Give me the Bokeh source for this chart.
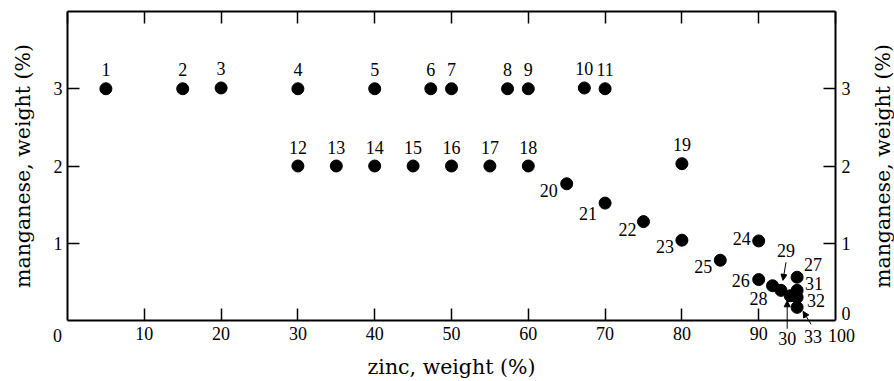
import math
from bokeh.plotting import figure
from bokeh.models import (LinearAxis, FixedTicker, Label, Arrow, NormalHead, Range1d,
                          CustomJSTickFormatter)
from bokeh.embed import file_html
from bokeh.resources import INLINE

# ---- data ----
zinc = [5, 15, 20, 30, 40, 47.3, 50, 57.3, 60, 67.3, 70,
        30, 35, 40, 45, 50, 55, 60, 80,
        65, 70, 75, 80, 90, 85, 90, 95,
        91.8, 92.9, 94.1, 95, 95, 95]
manganese = [3, 3, 3.01, 3, 3, 3, 3, 3, 3, 3.01, 3,
             2, 2, 2, 2, 2, 2, 2, 2.03,
             1.77, 1.52, 1.28, 1.04, 1.03, 0.78, 0.53, 0.56,
             0.45, 0.39, 0.32, 0.39, 0.30, 0.17]
point_labels = [str(i) for i in range(1, 34)]
x_ticks = [0, 10, 20, 30, 40, 50, 60, 70, 80, 90, 100]
y_ticks_left = [1, 2, 3]
y_ticks_right = [0, 1, 2, 3]
x_title = "zinc, weight (%)"
y_title = "manganese, weight (%)"
X0, X1, Y0, Y1 = 0, 100, 0, 4          # the boxed data area

# ---- layout of the number labels (screen px, y up) ----
lab_dx = [0] * 19 + [-9, -8, -7, -8, -8, -8, -9, 7, -14, 5, -3, 8, 10, 16]
lab_dy = [19] * 19 + [-7, -10, -8, -6, 2, -6, -1, 13, -13, 40, -43, 7, -3, -29]
lab_align = ["center"] * 19 + ["right"] * 7 + ["left", "center", "center", "center",
                                                "left", "left", "center"]
# arrows: (point index, start dx, start dy, end dx, end dy) in px
arrow_specs = [(28, 5, 28, 2, 10), (29, -3, -33, -3, -5), (32, 14, -17, 6, -4)]

# ---- pixel layout: box from x=67..835, y=11..320 on a 894x381 canvas ----
W, H = 894, 381
BOX_L, BOX_R, BOX_T, BOX_B = 67, 835, 11, 320
ux = (BOX_R - BOX_L) / (X1 - X0)       # px per x unit
uy = (BOX_B - BOX_T) / (Y1 - Y0)       # px per y unit
x_start = X0 - BOX_L / ux              # the frame fills the whole canvas
x_end = X0 + (W - BOX_L) / ux
y_start = Y1 - (H - BOX_T) / uy
y_end = Y1 + BOX_T / uy
px_x, px_y = 1 / ux, 1 / uy

p = figure(width=W, height=H, x_range=Range1d(x_start, x_end),
           y_range=Range1d(y_start, y_end),
           output_backend="svg", toolbar_location=None,
           x_axis_location=None, y_axis_location=None,
           min_border_left=0, min_border_right=0,
           min_border_top=0, min_border_bottom=0)
p.grid.grid_line_color = None
p.outline_line_color = None
p.background_fill_color = "white"
p.border_fill_color = "white"

TICK_FONT = "Liberation Serif"
TITLE_FONT = "DejaVu Serif"
TICK_SIZE = "18px"
TITLE_SIZE = "20.5px"


def style(ax):
    ax.major_tick_in = 12
    ax.major_tick_out = 0
    ax.minor_tick_in = 0
    ax.minor_tick_out = 0
    ax.axis_line_color = "black"
    ax.axis_line_width = 2
    ax.major_tick_line_color = "black"
    ax.major_tick_line_width = 1.5
    ax.major_label_text_font = TICK_FONT
    ax.major_label_text_font_size = TICK_SIZE
    ax.major_label_text_color = "black"
    ax.axis_label_text_font = TITLE_FONT
    ax.axis_label_text_font_size = TITLE_SIZE
    ax.axis_label_text_font_style = "normal"
    ax.axis_label_text_color = "black"


bottom = LinearAxis(ticker=FixedTicker(ticks=x_ticks[1:-1]), axis_label=x_title,
                    fixed_location=Y0, bounds=(X0, X1))
style(bottom)
bottom.major_label_standoff = 6
bottom.axis_label_standoff = 12
p.add_layout(bottom, "below")

top = LinearAxis(ticker=FixedTicker(ticks=x_ticks), bounds=(X0, X1), fixed_location=Y1,
                 formatter=CustomJSTickFormatter(code="return ''"))
style(top)
top.major_label_text_font_size = "1px"
top.major_label_standoff = 0
p.add_layout(top, "above")

left = LinearAxis(ticker=FixedTicker(ticks=y_ticks_left), axis_label=y_title,
                  fixed_location=X0, bounds=(Y0, Y1))
style(left)
left.major_label_standoff = 5
left.axis_label_standoff = 16
p.add_layout(left, "left")

right = LinearAxis(ticker=FixedTicker(ticks=y_ticks_right[1:]), fixed_location=X1,
                   bounds=(Y0, Y1))
style(right)
right.major_label_standoff = 6
p.add_layout(right, "right")


def text_label(x, y, text, dx, dy, align, font=TICK_FONT, size=TICK_SIZE, angle=0.0):
    p.add_layout(Label(x=x, y=y, text=text, x_offset=dx, y_offset=dy, angle=angle,
                       text_align=align, text_baseline="middle",
                       text_font=font, text_font_size=size, text_color="black"))


# end tick labels that sit just outside the corners
text_label(x_ticks[0], Y0, str(x_ticks[0]), -10, -15, "center")
text_label(x_ticks[-1], Y0, str(x_ticks[-1]), 6, -15, "center")
text_label(X1, y_ticks_right[0], str(y_ticks_right[0]), 6, 7, "left")

# right-hand title, reading upwards like the left one
text_label(X1, (Y0 + Y1) / 2, y_title, 47, 0, "center",
           font=TITLE_FONT, size=TITLE_SIZE, angle=math.pi / 2)

p.scatter(zinc, manganese, size=12, color="black")

for i in range(len(zinc)):
    text_label(zinc[i], manganese[i], point_labels[i], lab_dx[i], lab_dy[i], lab_align[i])

for i, sdx, sdy, edx, edy in arrow_specs:
    p.add_layout(Arrow(
        x_start=zinc[i] + sdx * px_x, y_start=manganese[i] + sdy * px_y,
        x_end=zinc[i] + edx * px_x, y_end=manganese[i] + edy * px_y,
        line_color="black", line_width=1,
        end=NormalHead(size=6, fill_color="black", line_color="black")))

open("out.html", "w").write(file_html(p, INLINE))
